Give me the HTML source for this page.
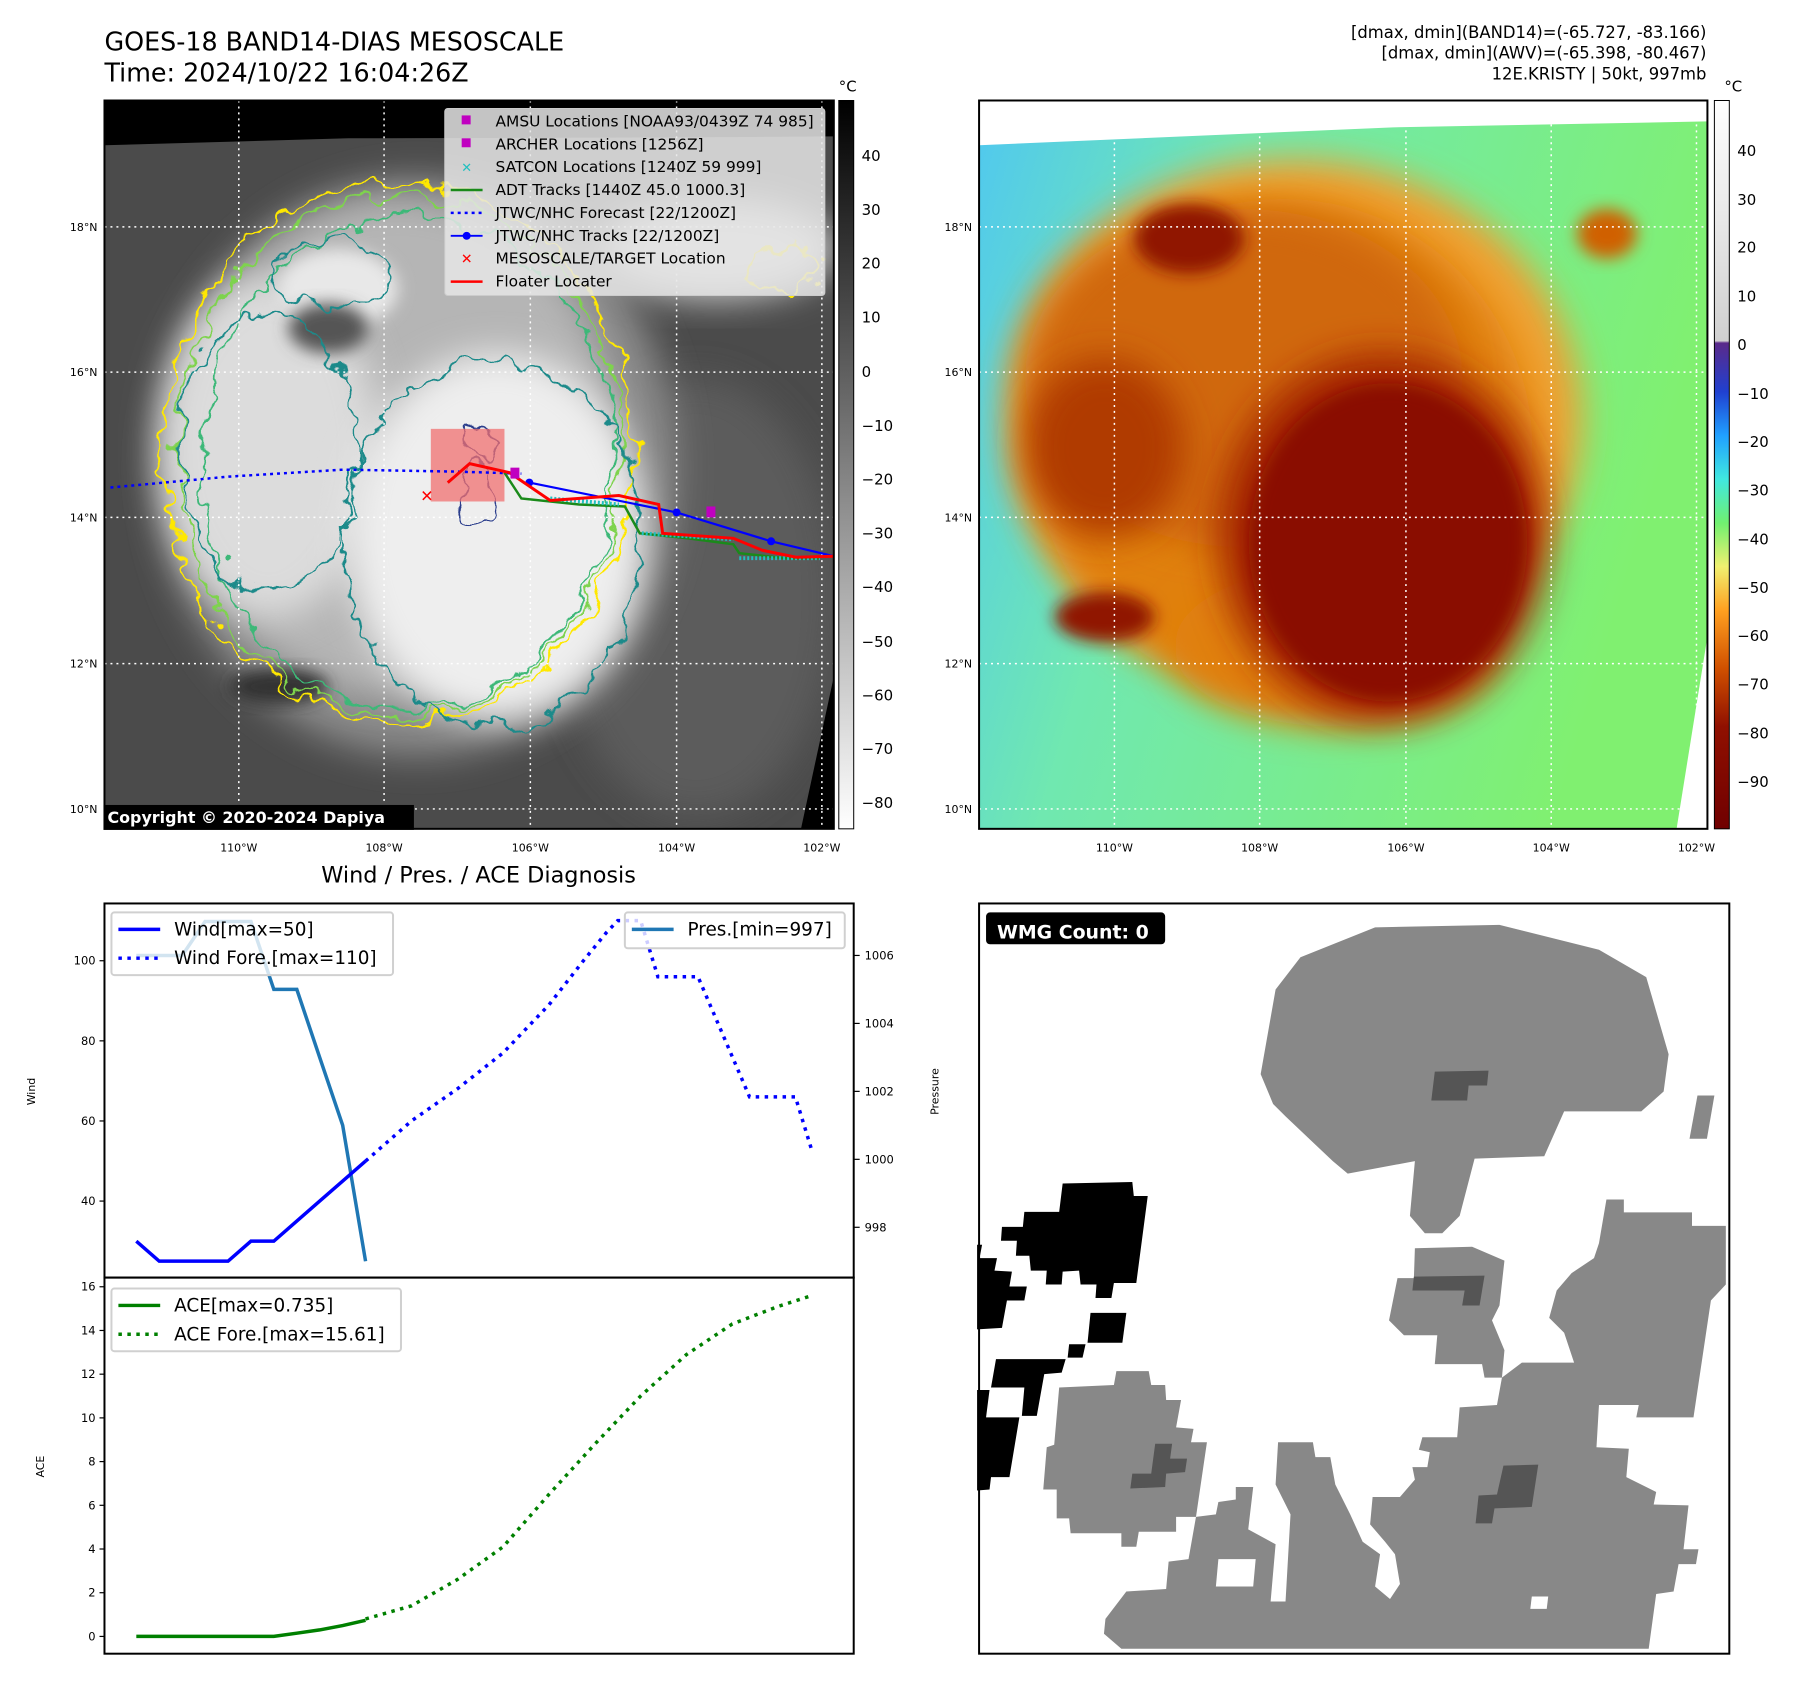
<!DOCTYPE html>
<html><head><meta charset="utf-8"><style>
body{margin:0;background:#fff;}
svg{display:block;font-family:"DejaVu Sans","Liberation Sans",sans-serif;}
</style></head><body>
<svg id="root" width="1797" height="1690" viewBox="0 0 1797 1690" xmlns="http://www.w3.org/2000/svg">
<defs>
<filter id="blur1" x="-30%" y="-30%" width="160%" height="160%"><feGaussianBlur stdDeviation="18"/></filter>
<filter id="blur2" x="-30%" y="-30%" width="160%" height="160%"><feGaussianBlur stdDeviation="8"/></filter>
<filter id="jag" x="-20%" y="-20%" width="140%" height="140%"><feTurbulence type="fractalNoise" baseFrequency="0.035" numOctaves="3" seed="4" result="n"/><feDisplacementMap in="SourceGraphic" in2="n" scale="34" xChannelSelector="R" yChannelSelector="G"/></filter>
<filter id="jag2" x="-20%" y="-20%" width="140%" height="140%"><feTurbulence type="fractalNoise" baseFrequency="0.03" numOctaves="3" seed="9" result="n"/><feDisplacementMap in="SourceGraphic" in2="n" scale="40" xChannelSelector="R" yChannelSelector="G"/></filter>
<linearGradient id="cbGray" x1="0" y1="0" x2="0" y2="1"><stop offset="0" stop-color="#000"/><stop offset="1" stop-color="#fff"/></linearGradient>
<linearGradient id="cbColor" x1="0" y1="0" x2="0" y2="1">
<stop offset="0" stop-color="#fff"/><stop offset="0.33" stop-color="#d0d0d0"/>
<stop offset="0.333" stop-color="#5a2a8a"/><stop offset="0.40" stop-color="#2040d0"/>
<stop offset="0.46" stop-color="#20a0ff"/><stop offset="0.52" stop-color="#40e8e0"/>
<stop offset="0.58" stop-color="#70f070"/><stop offset="0.64" stop-color="#f0f070"/>
<stop offset="0.70" stop-color="#ffa020"/><stop offset="0.78" stop-color="#d05000"/>
<stop offset="0.86" stop-color="#901000"/><stop offset="1" stop-color="#700000"/></linearGradient>
<linearGradient id="bgRight" x1="0" y1="0" x2="1" y2="0.3"><stop offset="0" stop-color="#50c8f0"/><stop offset="0.35" stop-color="#70e8b0"/><stop offset="1" stop-color="#80f070"/></linearGradient>
<clipPath id="clipL"><rect x="105" y="101" width="733" height="732"/></clipPath>
<clipPath id="clipR"><rect x="984" y="101" width="732" height="732"/></clipPath>
</defs>
<g transform="scale(0.995)">
<!-- titles -->
<text x="105" y="51" font-size="25.5">GOES-18 BAND14-DIAS MESOSCALE</text>
<text x="105" y="82" font-size="25.5">Time: 2024/10/22 16:04:26Z</text>
<g font-size="16.5" text-anchor="end">
<text x="1715" y="38">[dmax, dmin](BAND14)=(-65.727, -83.166)</text>
<text x="1715" y="59">[dmax, dmin](AWV)=(-65.398, -80.467)</text>
<text x="1715" y="80">12E.KRISTY | 50kt, 997mb</text>
</g>

<!-- LEFT MAP -->
<g clip-path="url(#clipL)">
<rect x="105" y="101" width="733" height="732" fill="#4b4b4b"/>
<ellipse cx="700" cy="600" rx="140" ry="220" fill="#5c5c5c" filter="url(#blur1)"/>
<ellipse cx="420" cy="470" rx="260" ry="290" fill="#8a8a8a" filter="url(#blur1)"/>
<ellipse cx="400" cy="450" rx="220" ry="250" fill="#b5b5b5" filter="url(#blur1)"/>
<ellipse cx="270" cy="450" rx="110" ry="170" fill="#dcdcdc" filter="url(#blur1)"/>
<ellipse cx="500" cy="540" rx="150" ry="185" fill="#eeeeee" filter="url(#blur1)"/>
<ellipse cx="340" cy="290" rx="60" ry="40" fill="#e8e8e8" filter="url(#blur2)"/>
<ellipse cx="330" cy="330" rx="40" ry="25" fill="#555" filter="url(#blur2)"/>
<ellipse cx="280" cy="690" rx="50" ry="18" fill="#333" filter="url(#blur2)"/>
<ellipse cx="720" cy="250" rx="120" ry="50" fill="#cfcfcf" filter="url(#blur1)"/>
<g fill="none" stroke-width="2.2" filter="url(#jag)">
<ellipse cx="400" cy="455" rx="236" ry="272" stroke="#ffe800"/>
<ellipse cx="402" cy="458" rx="224" ry="262" stroke="#7ed34e"/>
<ellipse cx="410" cy="465" rx="208" ry="248" stroke="#3cb878"/>
<ellipse cx="495" cy="545" rx="150" ry="185" stroke="#1f8a8a"/>
<ellipse cx="270" cy="455" rx="90" ry="140" stroke="#1f8a8a"/>
<ellipse cx="330" cy="275" rx="55" ry="35" stroke="#1f8a8a"/>
<ellipse cx="790" cy="270" rx="40" ry="20" stroke="#ffe800"/>
</g>
<g fill="none" stroke="#2c3e8c" stroke-width="2" filter="url(#jag2)">
<ellipse cx="480" cy="445" rx="18" ry="16"/>
<ellipse cx="480" cy="495" rx="15" ry="30"/>
</g>
<path d="M105 101 H838 V137 L700 138 L350 139 L105 146 Z" fill="#000"/>
<path d="M838 680 L838 833 L805 833 Z" fill="#000"/>
<g stroke="#fff" stroke-width="1.5" stroke-dasharray="2,4">
<line x1="240" y1="101" x2="240" y2="833"/><line x1="386" y1="101" x2="386" y2="833"/><line x1="533" y1="101" x2="533" y2="833"/><line x1="680" y1="101" x2="680" y2="833"/><line x1="826" y1="101" x2="826" y2="833"/>
<line x1="105" y1="228" x2="838" y2="228"/><line x1="105" y1="374" x2="838" y2="374"/><line x1="105" y1="520" x2="838" y2="520"/><line x1="105" y1="667" x2="838" y2="667"/><line x1="105" y1="813" x2="838" y2="813"/>
</g>
<rect x="433" y="431" width="74" height="73" fill="#f07070" opacity="0.75"/>
<polyline points="111,490 230,479 345,472 460,474 524,476" fill="none" stroke="#0000ff" stroke-width="2.5" stroke-dasharray="3,4"/>
<polyline points="532,485 680,515 775,544 838,559" fill="none" stroke="#0000ff" stroke-width="2.2"/>
<g fill="#0000ff"><circle cx="532" cy="485" r="4"/><circle cx="680" cy="515" r="4"/><circle cx="775" cy="544" r="4"/></g>
<polyline points="507,475 524,501 582,507 628,509 643,536 691,541 737,547 743,556 789,561 824,561" fill="none" stroke="#1a8a1a" stroke-width="2.5"/>
<g stroke="#20c0c0" stroke-width="4" stroke-dasharray="2,2"><line x1="553" y1="501" x2="622" y2="507"/><line x1="645" y1="536" x2="737" y2="542"/><line x1="743" y1="561" x2="824" y2="561"/></g>
<polyline points="450,485 472,466 512,475 553,503 622,498 662,507 666,536 737,541 766,553 800,560 838,559" fill="none" stroke="#ff0000" stroke-width="3"/>
<rect x="513" y="470" width="9" height="11" fill="#c000c0"/><rect x="710" y="509" width="9" height="11" fill="#c000c0"/>
<text x="429" y="504" font-size="16" fill="#ff0000" font-weight="bold" text-anchor="middle">✕</text>
</g>
<rect x="105" y="101" width="733" height="732" fill="none" stroke="#000" stroke-width="2"/>
<!-- legend -->
<g>
<rect x="447" y="109" width="382" height="188" rx="3" fill="#e6e6e6" fill-opacity="0.85" stroke="#ccc"/>
<g font-size="15.5">
<rect x="464" y="116" width="9" height="9" fill="#c000c0"/><text x="498" y="127">AMSU Locations [NOAA93/0439Z 74 985]</text>
<rect x="464" y="139" width="9" height="9" fill="#c000c0"/><text x="498" y="150">ARCHER Locations [1256Z]</text>
<text x="469" y="173" fill="#20c0c0" text-anchor="middle" font-size="13" font-weight="bold">✕</text><text x="498" y="173">SATCON Locations [1240Z 59 999]</text>
<line x1="453" y1="191" x2="485" y2="191" stroke="#1a8a1a" stroke-width="2.5"/><text x="498" y="196">ADT Tracks [1440Z 45.0 1000.3]</text>
<line x1="453" y1="214" x2="485" y2="214" stroke="#0000ff" stroke-width="2.5" stroke-dasharray="3,4"/><text x="498" y="219">JTWC/NHC Forecast [22/1200Z]</text>
<line x1="453" y1="237" x2="485" y2="237" stroke="#0000ff" stroke-width="2"/><circle cx="469" cy="237" r="4" fill="#0000ff"/><text x="498" y="242">JTWC/NHC Tracks [22/1200Z]</text>
<text x="469" y="265" fill="#ff0000" text-anchor="middle" font-size="14" font-weight="bold">✕</text><text x="498" y="265">MESOSCALE/TARGET Location</text>
<line x1="453" y1="283" x2="485" y2="283" stroke="#ff0000" stroke-width="2.5"/><text x="498" y="288">Floater Locater</text>
</g></g>
<rect x="104" y="809" width="312" height="25" fill="#000"/>
<text x="108" y="827" font-size="16" font-weight="bold" fill="#fff">Copyright © 2020-2024 Dapiya</text>
<g font-size="11" text-anchor="end">
<text x="98" y="232">18°N</text><text x="98" y="378">16°N</text><text x="98" y="524">14°N</text><text x="98" y="671">12°N</text><text x="98" y="817">10°N</text></g>
<g font-size="11" text-anchor="middle">
<text x="240" y="856">110°W</text><text x="386" y="856">108°W</text><text x="533" y="856">106°W</text><text x="680" y="856">104°W</text><text x="826" y="856">102°W</text></g>
<!-- left colorbar -->
<g>
<rect x="843" y="101" width="15" height="732" fill="url(#cbGray)" stroke="#000"/>
<text x="852" y="92" font-size="15" text-anchor="middle">°C</text>
<g font-size="15">
<text x="866" y="162">40</text><text x="866" y="216">30</text><text x="866" y="270">20</text><text x="866" y="324">10</text><text x="866" y="379">0</text><text x="866" y="433">−10</text><text x="866" y="487">−20</text><text x="866" y="541">−30</text><text x="866" y="595">−40</text><text x="866" y="650">−50</text><text x="866" y="704">−60</text><text x="866" y="758">−70</text><text x="866" y="812">−80</text>
</g></g>

<!-- RIGHT MAP -->
<g clip-path="url(#clipR)">
<rect x="984" y="101" width="732" height="732" fill="url(#bgRight)"/>
<ellipse cx="1300" cy="420" rx="290" ry="260" fill="#f0a030" filter="url(#blur1)"/>
<ellipse cx="1290" cy="450" rx="250" ry="250" fill="#e08010" filter="url(#blur1)"/>
<ellipse cx="1340" cy="650" rx="160" ry="80" fill="#e08010" filter="url(#blur1)"/>
<ellipse cx="1250" cy="380" rx="220" ry="170" fill="#d06808" filter="url(#blur1)"/>
<ellipse cx="1390" cy="540" rx="165" ry="185" fill="#a52800" filter="url(#blur1)"/>
<ellipse cx="1395" cy="545" rx="140" ry="160" fill="#8a0a00" filter="url(#blur2)"/>
<ellipse cx="1110" cy="450" rx="80" ry="90" fill="#b03a05" filter="url(#blur1)"/>
<ellipse cx="1195" cy="240" rx="55" ry="35" fill="#901800" filter="url(#blur2)"/>
<ellipse cx="1110" cy="620" rx="50" ry="25" fill="#901800" filter="url(#blur2)"/>
<ellipse cx="1615" cy="235" rx="30" ry="25" fill="#d06000" filter="url(#blur2)"/>
<path d="M984 101 H1716 V122 L1400 128 L984 146 Z" fill="#fff"/>
<path d="M1716 640 L1716 833 L1685 833 Z" fill="#fff"/>
<g stroke="#fff" stroke-width="1.5" stroke-dasharray="2,4">
<line x1="1120" y1="101" x2="1120" y2="833"/><line x1="1266" y1="101" x2="1266" y2="833"/><line x1="1413" y1="101" x2="1413" y2="833"/><line x1="1559" y1="101" x2="1559" y2="833"/><line x1="1705" y1="101" x2="1705" y2="833"/>
<line x1="984" y1="228" x2="1716" y2="228"/><line x1="984" y1="374" x2="1716" y2="374"/><line x1="984" y1="520" x2="1716" y2="520"/><line x1="984" y1="667" x2="1716" y2="667"/><line x1="984" y1="813" x2="1716" y2="813"/>
</g></g>
<rect x="984" y="101" width="732" height="732" fill="none" stroke="#000" stroke-width="2"/>
<g font-size="11" text-anchor="end">
<text x="977" y="232">18°N</text><text x="977" y="378">16°N</text><text x="977" y="524">14°N</text><text x="977" y="671">12°N</text><text x="977" y="817">10°N</text></g>
<g font-size="11" text-anchor="middle">
<text x="1120" y="856">110°W</text><text x="1266" y="856">108°W</text><text x="1413" y="856">106°W</text><text x="1559" y="856">104°W</text><text x="1705" y="856">102°W</text></g>
<g>
<rect x="1723" y="101" width="15" height="732" fill="url(#cbColor)" stroke="#000"/>
<text x="1742" y="92" font-size="15" text-anchor="middle">°C</text>
<g font-size="15">
<text x="1746" y="157">40</text><text x="1746" y="206">30</text><text x="1746" y="254">20</text><text x="1746" y="303">10</text><text x="1746" y="352">0</text><text x="1746" y="401">−10</text><text x="1746" y="449">−20</text><text x="1746" y="498">−30</text><text x="1746" y="547">−40</text><text x="1746" y="596">−50</text><text x="1746" y="644">−60</text><text x="1746" y="693">−70</text><text x="1746" y="742">−80</text><text x="1746" y="791">−90</text>
</g></g>

<!-- DIAGNOSIS -->
<text x="481" y="887" font-size="22.5" text-anchor="middle">Wind / Pres. / ACE Diagnosis</text>
<g id="chart"></g>

<!-- WMG PANEL -->
<g>
<rect x="984" y="908" width="754" height="754" fill="#fff"/>
<g transform="translate(982,902) scale(0.5)">
<g fill="#888">
<polygon points="570,355 600,185 650,120 800,60 1050,55 1250,105 1345,160 1390,315 1380,390 1335,430 1180,430 1140,520 1000,525 970,640 935,675 900,675 870,640 880,530 745,555 715,530 620,440 595,415"/>
<polygon points="1448,398 1482,398 1467,485 1432,485"/>
<polygon points="880,705 995,702 1060,730 1050,820 1035,850 1060,910 1055,965 1020,965 1015,938 920,938 925,880 858,880 828,850 845,765 878,765"/>
<polygon points="165,985 275,980 280,952 345,952 350,980 378,980 380,1010 410,1010 400,1065 435,1068 430,1095 462,1095 440,1245 400,1245 400,1275 325,1275 320,1305 290,1305 290,1278 188,1278 185,1248 160,1248 160,1190 133,1190 140,1105 155,1100"/>
<polygon points="290,1510 255,1480 258,1450 300,1395 380,1390 385,1335 425,1330 440,1245 480,1240 485,1215 520,1210 520,1185 555,1185 545,1270 600,1300 590,1415 620,1415 630,1240 600,1180 605,1095 675,1095 680,1125 710,1125 720,1180 750,1240 775,1295 810,1320 800,1385 830,1410 850,1380 840,1320 820,1295 790,1260 795,1205 850,1205 880,1170 875,1145 905,1145 910,1115 888,1110 895,1085 965,1085 970,1025 1045,1020 1055,965 1095,935 1200,935 1180,875 1150,845 1165,790 1195,755 1240,725 1250,695 1265,607 1300,607 1300,633 1437,633 1437,660 1505,660 1505,778 1475,810 1440,1045 1325,1045 1330,1020 1250,1020 1245,1105 1310,1108 1305,1165 1365,1195 1360,1220 1430,1222 1420,1310 1450,1310 1445,1340 1410,1340 1400,1395 1365,1400 1350,1510"/>
</g>
<g fill="#fff"><polygon points="485,1330 560,1330 555,1385 480,1385"/><polygon points="1115,1405 1148,1405 1145,1430 1112,1430"/></g>
<g fill="#555">
<polygon points="920,350 1028,348 1025,378 988,378 985,408 913,408"/>
<polygon points="878,762 1020,760 1010,820 975,820 980,790 875,790"/>
<polygon points="358,1098 392,1098 388,1128 422,1128 418,1155 380,1158 378,1185 308,1188 312,1158 350,1158"/>
<polygon points="1058,1142 1128,1140 1115,1225 1040,1228 1035,1258 1002,1258 1008,1202 1045,1200"/>
</g>
<g fill="#000">
<polygon points="172,575 312,572 315,600 343,600 320,775 275,775 270,805 238,805 240,778 208,778 205,750 172,752 170,778 138,778 140,750 108,750 105,720 78,720 80,690 48,690 50,662 92,662 95,632 165,632"/>
<polygon points="0,698 10,698 5,725 40,725 35,750 70,752 65,782 100,782 95,810 60,810 50,865 0,868"/>
<polygon points="228,835 300,835 292,895 222,895"/>
<polygon points="185,898 218,898 212,925 182,925"/>
<polygon points="38,928 178,928 170,955 135,958 120,1042 90,1042 95,985 28,985"/>
<polygon points="0,990 25,990 18,1045 85,1045 65,1165 28,1165 25,1190 0,1192"/>
</g>
</g>
<rect x="984" y="908" width="754" height="754" fill="none" stroke="#000" stroke-width="2"/>
<rect x="991" y="917" width="180" height="32" rx="4" fill="#000"/>
<text x="1002" y="943" font-size="19" font-weight="bold" fill="#fff">WMG Count: 0</text>
</g>
</g>
</svg>
<script>
// Chart data (x in 6h steps)
var windObsX = [0,1,2,3,4,5,6,7,8,9,10];
var windObs = [30,25,25,25,25,30,30,35,40,45,50];
var windForeX = [10,12,14,16,18,19.5,20.5,21,22,22.75,24.5,26.75,28.75,29.5];
var windFore = [50,60,68,77,89,100,107,110,110,96,96,66,66,52];
var presX = [0,1,2,3,4,5,6,7,8,9,10];
var pres = [1006,1006,1006,1007,1007,1007,1005,1005,1003,1001,997];
var aceObsX = [0,1,2,3,4,5,6,7,8,9,10];
var aceObs = [0,0,0,0,0,0,0,0.15,0.3,0.5,0.735];
var aceForeX = [10,12,14,16,18,20,22,24,26,28,29.5];
var aceFore = [0.8,1.4,2.6,4.1,6.5,8.8,11,12.9,14.3,15.1,15.61];
var windTicks = [40,60,80,100];
var presTicks = [998,1000,1002,1004,1006];
var aceTicks = [0,2,4,6,8,10,12,14,16];

var NS='http://www.w3.org/2000/svg';
var g=document.getElementById('chart');
function mk(t,a,parent){var e=document.createElementNS(NS,t);for(var k in a)e.setAttribute(k,a[k]);(parent||g).appendChild(e);return e;}
var L=105,R=858,T=908,M=1284,B=1662;
function xS(i){return 137+23.04*i;}
function yW(v){return M-(v-20.9)/(114.3-20.9)*(M-T);}
function yP(v){return M-(v-996.52)/(1007.53-996.52)*(M-T);}
function yA(v){return B-(v+0.79)/(16.42+0.79)*(B-M);}
function pts(xs,ys,f){return xs.map(function(x,i){return xS(x).toFixed(1)+','+f(ys[i]).toFixed(1);}).join(' ');}

var l;
l=mk('polyline',{points:pts(presX,pres,yP),fill:'none',stroke:'#1f77b4','stroke-width':3.5});


l=mk('polyline',{points:pts(windObsX,windObs,yW),fill:'none',stroke:'#0000ff','stroke-width':3.5});


l=mk('polyline',{points:pts(windForeX,windFore,yW),fill:'none',stroke:'#0000ff','stroke-width':3.5,'stroke-dasharray':'3.5,5.5'});


l=mk('polyline',{points:pts(aceObsX,aceObs,yA),fill:'none',stroke:'#008000','stroke-width':3.5});


l=mk('polyline',{points:pts(aceForeX,aceFore,yA),fill:'none',stroke:'#008000','stroke-width':3.5,'stroke-dasharray':'3.5,5.5'});



mk('rect',{x:L,y:T,width:R-L,height:M-T,fill:'none',stroke:'#000','stroke-width':2});
mk('rect',{x:L,y:M,width:R-L,height:B-M,fill:'none',stroke:'#000','stroke-width':2});

windTicks.forEach(function(v){var y=yW(v);mk('line',{x1:L-5,y1:y,x2:L,y2:y,stroke:'#000','stroke-width':1.2});
var t=mk('text',{x:L-9,y:y+4,'font-size':11.5,'text-anchor':'end'});t.textContent=v;

});
presTicks.forEach(function(v){var y=yP(v);mk('line',{x1:R,y1:y,x2:R+6,y2:y,stroke:'#000','stroke-width':1.2});
var t=mk('text',{x:R+11,y:y+4,'font-size':11.5});t.textContent=v;

});
aceTicks.forEach(function(v){var y=yA(v);mk('line',{x1:L-5,y1:y,x2:L,y2:y,stroke:'#000','stroke-width':1.2});
var t=mk('text',{x:L-9,y:y+4,'font-size':11.5,'text-anchor':'end'});t.textContent=v;

});

var t;
t=mk('text',{x:0,y:0,'font-size':11,'text-anchor':'middle',transform:'translate(35,1097) rotate(-90)'});t.textContent='Wind';


t=mk('text',{x:0,y:0,'font-size':11,'text-anchor':'middle',transform:'translate(943,1097) rotate(-90)'});t.textContent='Pressure';


t=mk('text',{x:0,y:0,'font-size':11,'text-anchor':'middle',transform:'translate(44,1474) rotate(-90)'});t.textContent='ACE';



function legend(x,y,w,h,items,name){
  var lg=mk('g',{});
  
  
  mk('rect',{x:x,y:y,width:w,height:h,rx:3,fill:'#fff','fill-opacity':0.8,stroke:'#d0d0d0','stroke-width':2},lg);
  items.forEach(function(it,i){var yy=y+17+i*29;
    var a={x1:x+7,y1:yy,x2:x+49,y2:yy,stroke:it[1],'stroke-width':3.5};if(it[2])a['stroke-dasharray']='3.5,5.5';
    mk('line',a,lg);var tt=mk('text',{x:x+63,y:yy+6,'font-size':18.5},lg);tt.textContent=it[0];});
}
legend(112,917,283,63,[['Wind[max=50]','#0000ff',0],['Wind Fore.[max=110]','#0000ff',1]],'wind-legend');
legend(628,917,221,36,[['Pres.[min=997]','#1f77b4',0]],'pressure-legend');
legend(112,1295,291,63,[['ACE[max=0.735]','#008000',0],['ACE Fore.[max=15.61]','#008000',1]],'ace-legend');
</script>
</body></html>
